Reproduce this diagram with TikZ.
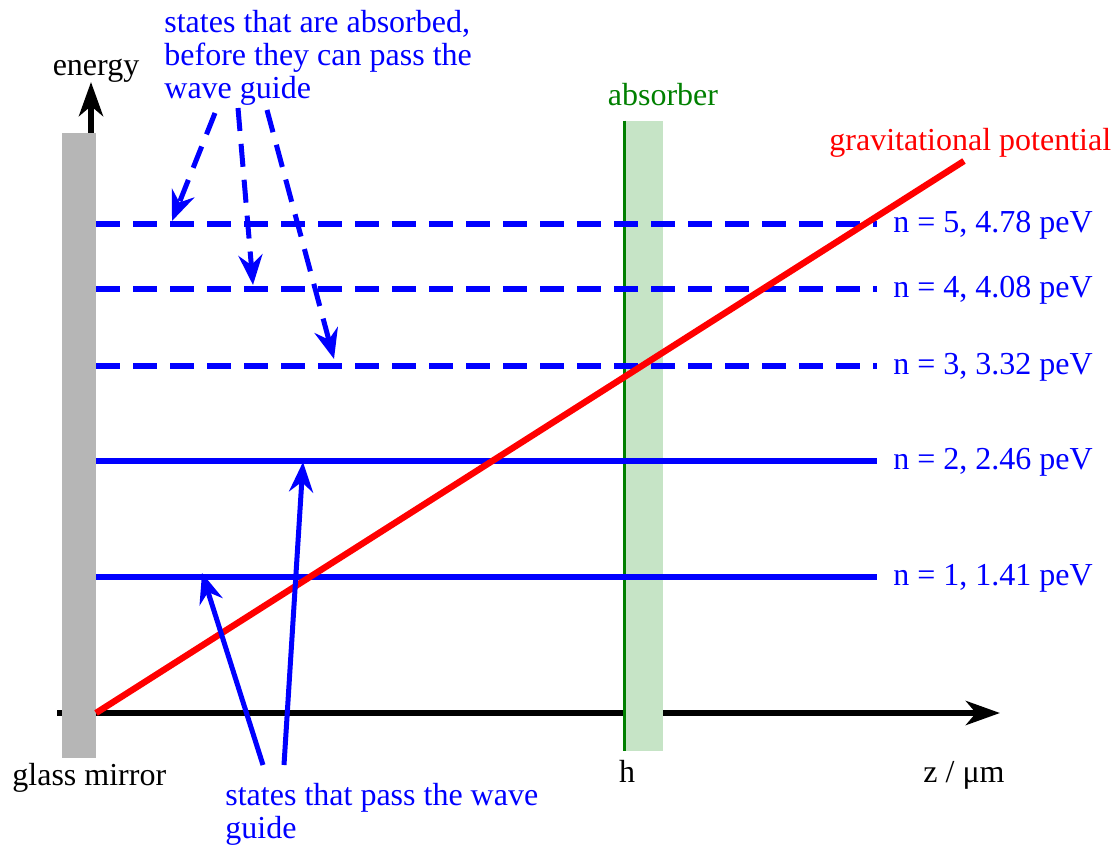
\documentclass[tikz,border=0pt]{standalone}
\usepackage{fontspec}
\setmainfont{Liberation Serif}
\usepackage{xcolor}
\usepackage{tikz}
\usetikzlibrary{arrows.meta}

\definecolor{mirrorgray}{RGB}{182,182,182}
\definecolor{absfill}{RGB}{198,228,198}
\definecolor{absgreen}{RGB}{0,128,0}

\begin{document}
\begin{tikzpicture}[x=0.5pt, y=-0.5pt,
    lbl/.style={font=\fontsize{16}{16.5}\selectfont, inner sep=0pt},
    axis/.style={line width=3pt, -{Stealth[length=17pt, width=12pt, inset=5pt]}},
    level/.style={line width=3.2pt, blue},
    dlevel/.style={level, dash pattern=on 12pt off 6.5pt},
    parr/.style={line width=2.5pt, blue, -{Stealth[length=15pt, width=12pt, inset=5pt]}},
    aarr/.style={parr, dash pattern=on 11.5pt off 6.5pt},
]
\useasboundingbox (0,0) rectangle (1119,846);

% ===== Axes =====
\coordinate (zstart) at (57,713);
\coordinate (zend)   at (1000,713);
\coordinate (orig)   at (91,713);
\coordinate (etop)   at (91,82);
\draw[axis] (zstart) -- (zend);
\draw[axis] (orig) -- (etop);

% ===== Mirror and absorber =====
\node[fill=mirrorgray, minimum width=17pt, minimum height=312.5pt, inner sep=0pt]
    (mirror) at (79,445.5) {};
\node[fill=absfill, minimum width=19pt, minimum height=315pt, inner sep=0pt]
    (absorber) at (644,436) {};
\draw[absgreen, line width=1.2pt] (absorber.north west) -- (absorber.south west);

% ===== Energy levels =====
\foreach \y/\n/\e/\s in {224/5/4.78/dlevel, 289/4/4.08/dlevel, 366/3/3.32/dlevel,
                         461/2/2.46/level, 577/1/1.41/level} {
    \coordinate (m\n) at (96,\y);
    \node[lbl, text=blue, anchor=base west] (lv\n) at (893,\y+8) {n = \n, \e\ peV};
    \draw[\s] (m\n) -- ([xshift=-8pt]m\n -| lv\n.west);
}

% ===== Gravitational potential =====
\coordinate (gp0) at (96,713);
\coordinate (gp1) at (964,161);
\draw[red, line width=3.2pt] (gp0) -- (gp1);

% ===== Labels =====
\node[lbl, anchor=base] (energy) at (96,75) {energy};
\node[lbl, anchor=base west] (glass) at (12,785) {glass mirror};
\node[lbl, anchor=base, text=absgreen] (abslbl) at (663,105) {absorber};
\node[lbl, anchor=base west, text=red] (gplbl) at (829,150) {gravitational potential};
\node[lbl, anchor=base] (hlbl) at (627,782) {h};
\node[lbl, anchor=base west] (zlbl) at (923,782) {z / μm};

\node[lbl, text=blue, anchor=north west, align=left] (absd) at (164,10)
    {states that are absorbed,\\before they can pass the\\wave guide};
\node[lbl, text=blue, anchor=north west, align=left] (passd) at (225,783)
    {states that pass the wave\\guide};

% ===== Absorbed states (dashed) =====
\coordinate (a1) at (215,113);  \coordinate (b1) at (172,221);
\coordinate (a2) at (238,108);  \coordinate (b2) at (253,285);
\coordinate (a3) at (267,110);  \coordinate (b3) at (334,359);
\foreach \i in {1,2,3}
    \draw[aarr] (a\i) -- (b\i);

% ===== Passing states (solid) =====
\coordinate (p1) at (263,765);  \coordinate (q1) at (202,573);
\coordinate (p2) at (284,765);  \coordinate (q2) at (303,462);
\foreach \i in {1,2}
    \draw[parr] (p\i) -- (q\i);

\end{tikzpicture}
\end{document}
